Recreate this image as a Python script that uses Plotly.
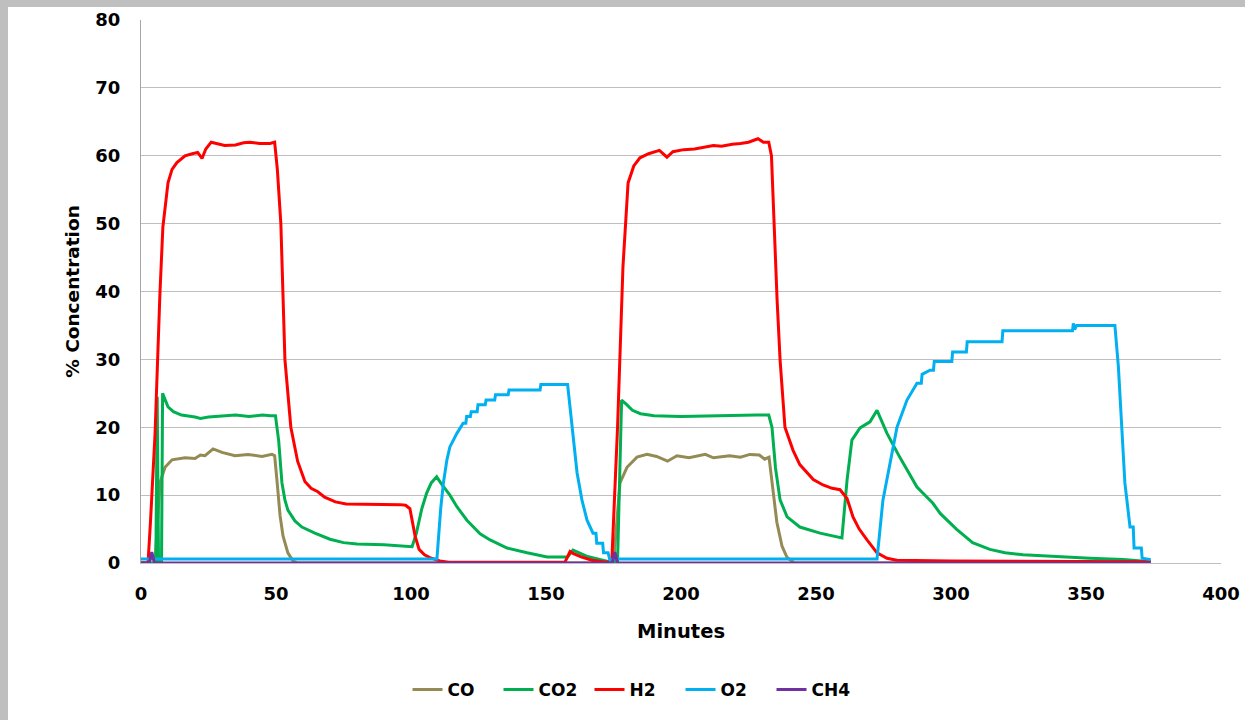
import plotly.graph_objects as go

# ---------------- data ----------------
CO_T = [0, 5.2, 7, 8.9, 11.5, 16.3, 20, 22, 23.7, 26.7,
        30, 34.8, 39.6, 44.8, 48.5, 49.5, 50.4, 51.5, 52.6, 54.4,
        56.3, 58, 175, 177.4, 180, 183.7, 187.4, 191, 195, 198.5,
        203, 206, 209, 212, 218, 222, 225.5, 229, 231, 232.6,
        234, 235.5, 237.4, 239.3, 242, 374]
CO_V = [0, 0, 11.8, 14.1, 15.2, 15.5, 15.4, 15.9, 15.8, 16.8,
        16.3, 15.8, 16, 15.7, 16, 15.8, 12, 7, 4, 1.5,
        0.3, 0, 0, 11.8, 14.1, 15.6, 16, 15.7, 15, 15.8,
        15.5, 15.7, 16, 15.5, 15.8, 15.6, 16, 15.9, 15.3, 15.6,
        11, 6, 2.5, 0.8, 0, 0]

CO2_T = [0, 5.5, 6.0, 6.5, 7.6, 8.0, 9, 10, 12, 15,
         20, 22, 25, 30, 35, 40, 45, 48, 49.8, 51,
         52.2, 53.3, 54.4, 57, 59.6, 64.4, 70, 75, 80, 90,
         96, 100.4, 102, 104, 105.8, 107.5, 109.5, 111, 114.4, 117,
         120.7, 123, 125.6, 129.3, 135.6, 143, 150.4, 158, 160, 165,
         171, 174, 176.5, 178, 180, 182, 185, 190, 200, 210,
         220, 228, 232.5, 233.7, 235, 236.7, 239.3, 244, 251.5, 259.6,
         261.5, 263.3, 266.3, 270, 272.6, 276.3, 281, 287.4, 293.3, 296,
         302, 308, 314.4, 320, 326.7, 339, 351.5, 363.7, 371, 374]
CO2_V = [0, 0, 24.5, 0, 0, 25, 24, 23, 22.3, 21.8,
         21.5, 21.3, 21.5, 21.6, 21.8, 21.6, 21.8, 21.7, 21.7, 18,
         11.8, 9.3, 7.8, 6.2, 5.3, 4.4, 3.5, 3.0, 2.8, 2.7,
         2.5, 2.4, 4.4, 8, 10.3, 11.8, 12.7, 11.8, 10, 8.3,
         6.3, 5.3, 4.3, 3.4, 2.2, 1.5, 0.9, 0.9, 1.9, 1.0,
         0.4, 0.1, 0.2, 24, 23.3, 22.5, 22, 21.7, 21.6, 21.7,
         21.8, 21.8, 21.8, 20, 14, 9.3, 6.8, 5.3, 4.4, 3.7,
         12.2, 18.1, 19.9, 20.8, 22.5, 19.1, 15.6, 11.2, 8.8, 7.3,
         5.0, 3.0, 2.0, 1.5, 1.2, 0.9, 0.7, 0.5, 0.3, 0.2]

H2_T = [0, 2.6, 3.5, 5.2, 7, 8.1, 10, 11.5, 13.3, 16.3,
        19, 21, 22.6, 24, 26, 28, 31, 35, 38, 40.4,
        44, 47.8, 49.5, 50.5, 51.8, 53.3, 55.5, 58, 60.7, 63,
        65.5, 68, 72, 76, 81, 86, 92, 96, 98, 99.6,
        101.5, 103, 105, 107, 110.7, 114, 120, 140, 157, 158.9,
        160, 163, 167, 172.6, 174.4, 176.5, 178.5, 180.4, 182.5, 184.8,
        188, 192, 194.8, 197, 201, 205, 209, 212, 215, 219,
        222, 225, 228.5, 230.5, 232.5, 233.5, 235.6, 236.7, 238.5, 241.5,
        244, 246.7, 249, 252.6, 256, 258.9, 261.5, 263.7, 266, 268.9,
        272.6, 276.3, 280, 300, 330, 360, 374]
H2_V = [0, 0, 6, 19, 39.6, 49.5, 56, 58, 59, 60,
        60.3, 60.5, 59.6, 61, 62, 61.8, 61.5, 61.6, 61.9, 62,
        61.8, 61.8, 62, 58, 50, 30, 20, 15, 12, 11,
        10.5, 9.7, 9, 8.7, 8.7, 8.6, 8.7, 8.6, 8.5, 8,
        4, 2, 1.2, 0.8, 0.3, 0.1, 0.1, 0.1, 0.1, 1.7,
        1.4, 0.9, 0.4, 0.1, 0.5, 20, 43.6, 56, 58.5, 59.7,
        60.3, 60.8, 59.8, 60.6, 60.9, 61, 61.3, 61.5, 61.4, 61.7,
        61.8, 62, 62.5, 62, 62, 60, 38.7, 29.9, 20, 16.6,
        14.5, 13.3, 12.3, 11.5, 11, 10.8, 9.5, 6.8, 5, 3.4,
        1.5, 0.7, 0.4, 0.3, 0.3, 0.3, 0.2]

O2_T = [0, 50, 100, 109.6, 111, 112, 113.3, 114.4, 117, 119.3,
        120.3, 120.6, 122, 122.3, 124.5, 124.8, 127.5, 127.8, 131, 131.3,
        136, 136.3, 147.8, 148.1, 158, 159.6, 161.5, 163.3, 165.2, 167.4,
        168.5, 168.8, 171, 171.3, 173, 173.7, 175, 200, 250, 272.6,
        274.8, 278, 280, 283.7, 287.4, 289, 289.3, 292.2, 293.5, 293.8,
        300.3, 300.6, 305.7, 306, 318.9, 319.2, 345, 345.3, 345.8, 346.5,
        360.7, 362, 363.3, 364.4, 366.3, 367.5, 367.8, 370.5, 370.8, 374]
O2_V = [0.6, 0.6, 0.6, 0.6, 8, 11.8, 15.2, 17.1, 19.1, 20.6,
        20.6, 21.6, 21.6, 22.3, 22.3, 23.3, 23.3, 24.0, 24.0, 24.8,
        24.8, 25.5, 25.5, 26.3, 26.3, 20.6, 13.3, 9.3, 6.3, 4.4,
        4.4, 2.9, 2.9, 1.5, 1.5, 0.4, 0.6, 0.6, 0.6, 0.6,
        9.3, 15.6, 20, 24, 26.5, 26.5, 27.8, 28.4, 28.4, 29.7,
        29.7, 31.1, 31.1, 32.6, 32.6, 34.2, 34.2, 35.3, 34.4, 35,
        35, 28.9, 19.1, 11.8, 5.3, 5.3, 2.2, 2.2, 0.7, 0.5]

CH4_T = [0, 3, 4, 5, 174.5, 175.5, 176.5, 374]
CH4_V = [0, 0, 1.6, 0, 0, 1.6, 0, 0]

SERIES = [
    ("CO", CO_T, CO_V, "#948A54"),
    ("CO2", CO2_T, CO2_V, "#00B050"),
    ("H2", H2_T, H2_V, "#FF0000"),
    ("O2", O2_T, O2_V, "#00B0F0"),
    ("CH4", CH4_T, CH4_V, "#7030A0"),
]

X_TICKS = [0, 50, 100, 150, 200, 250, 300, 350, 400]
Y_TICKS = [0, 10, 20, 30, 40, 50, 60, 70, 80]
X_TITLE = "Minutes"
Y_TITLE = "% Concentration"

# ---------------- figure ----------------
FONT = "DejaVu Sans"
fig = go.Figure()
for name, t, v, col in SERIES:
    fig.add_trace(go.Scatter(x=t, y=v, name=name, mode="lines",
                             line=dict(color=col, width=3),
                             cliponaxis=False))

W, H = 1245, 720
L, R, T, B = 141, 24, 20, 157
pw, ph = W - L - R, H - T - B

def px2x(px):
    return (px - L) / pw

def py2y(py):
    return (H - B - py) / ph

frame = "#BFBFBF"
shapes = [
    dict(type="rect", xref="paper", yref="paper", layer="below",
         x0=px2x(0), x1=px2x(W), y0=py2y(7), y1=py2y(0),
         fillcolor=frame, line=dict(width=0)),
    dict(type="rect", xref="paper", yref="paper", layer="below",
         x0=px2x(0), x1=px2x(8), y0=py2y(H), y1=py2y(0),
         fillcolor=frame, line=dict(width=0)),
]

fig.update_layout(
    width=W, height=H,
    margin=dict(l=L, r=R, t=T, b=B, autoexpand=False),
    paper_bgcolor="white", plot_bgcolor="white",
    font=dict(family=FONT, size=18, color="black"),
    shapes=shapes,
    showlegend=True,
    legend=dict(orientation="h", x=px2x(635), xanchor="center",
                y=py2y(690), yanchor="middle",
                font=dict(family=FONT, size=17, color="black", weight="bold"),
                entrywidth=46, entrywidthmode="pixels",
                bgcolor="rgba(0,0,0,0)"),
    xaxis=dict(range=[0, 400], tickvals=X_TICKS, ticktext=[str(v) for v in X_TICKS],
               showgrid=False, zeroline=False, showline=True,
               linecolor="#BFBFBF", linewidth=1, ticks="",
               ticklabelstandoff=14,
               tickfont=dict(family=FONT, size=18, color="black", weight="bold"),
               title=dict(text=X_TITLE, standoff=21,
                          font=dict(family=FONT, size=19.5, color="black", weight="bold"))),
    yaxis=dict(range=[0, 80], tickvals=Y_TICKS, ticktext=[str(v) for v in Y_TICKS],
               showgrid=True, gridcolor="#BFBFBF", gridwidth=1,
               zeroline=False, showline=True, linecolor="#A6A6A6", linewidth=1,
               ticks="", ticklabelstandoff=16,
               tickfont=dict(family=FONT, size=18, color="black", weight="bold"),
               title=dict(text=Y_TITLE, standoff=10,
                          font=dict(family=FONT, size=18.5, color="black", weight="bold"))),
)

fig.write_html("out.html",
               config={"displayModeBar": False},
               post_script="document.body.style.margin='0';document.body.style.overflow='hidden';")
